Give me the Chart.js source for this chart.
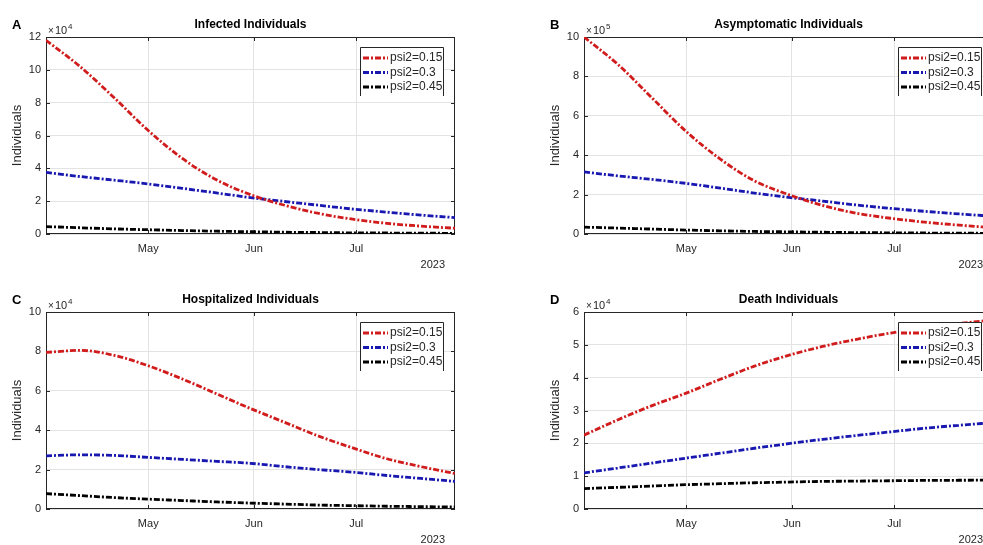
<!DOCTYPE html>
<html>
<head>
<meta charset="utf-8">
<script src="https://cdn.jsdelivr.net/npm/chart.js@4.4.1/dist/chart.umd.min.js"></script>
<style>
    html, body { margin: 0; padding: 0; background: #fff; }
    body { width: 983px; height: 545px; overflow: hidden; position: relative; }
    .panel { position: absolute; width: 500px; height: 275px; }
</style>
</head>
<body>
<div class="panel" style="left:0;top:0"><canvas id="chartA" width="500" height="275"></canvas></div>
<div class="panel" style="left:538px;top:0"><canvas id="chartB" width="500" height="275"></canvas></div>
<div class="panel" style="left:0;top:275px"><canvas id="chartC" width="500" height="275"></canvas></div>
<div class="panel" style="left:538px;top:275px"><canvas id="chartD" width="500" height="275"></canvas></div>
<script>
// days since 1 Apr 2023
const days = [0, 10, 20, 30, 40, 50, 60, 70, 80, 90, 100, 110, 120];
const monthTickDays = [30, 61, 91];
const monthTickLabels = ['May', 'Jun', 'Jul'];
const seriesLabels = ['psi2=0.15', 'psi2=0.3', 'psi2=0.45'];

// values in units of the axis multiplier (x10^4 or x10^5)
const infected015 = [11.8, 10.2, 8.3, 6.3, 4.6, 3.3, 2.4, 1.75, 1.25, 0.9, 0.65, 0.48, 0.35];
const infected03 = [3.75, 3.5, 3.28, 3.05, 2.78, 2.5, 2.22, 1.98, 1.75, 1.52, 1.33, 1.15, 1.0];
const infected045 = [0.45, 0.38, 0.31, 0.26, 0.21, 0.17, 0.14, 0.11, 0.09, 0.07, 0.06, 0.05, 0.04];

const asympt015 = [10.0, 8.6, 6.9, 5.2, 3.8, 2.7, 2.0, 1.45, 1.05, 0.8, 0.6, 0.45, 0.32];
const asympt03 = [3.15, 2.95, 2.77, 2.57, 2.33, 2.08, 1.86, 1.67, 1.47, 1.3, 1.15, 1.02, 0.9];
const asympt045 = [0.35, 0.3, 0.25, 0.2, 0.16, 0.13, 0.11, 0.09, 0.07, 0.06, 0.05, 0.04, 0.035];

const hosp015 = [7.95, 8.05, 7.8, 7.27, 6.6, 5.85, 5.1, 4.4, 3.7, 3.1, 2.55, 2.15, 1.8];
const hosp03 = [2.7, 2.75, 2.72, 2.62, 2.52, 2.42, 2.32, 2.15, 2.0, 1.87, 1.7, 1.55, 1.4];
const hosp045 = [0.78, 0.68, 0.58, 0.5, 0.43, 0.36, 0.3, 0.25, 0.2, 0.17, 0.14, 0.12, 0.1];

const death015 = [2.25, 2.72, 3.15, 3.53, 3.95, 4.35, 4.68, 4.95, 5.17, 5.36, 5.52, 5.65, 5.76];
const death03 = [1.1, 1.25, 1.4, 1.55, 1.7, 1.85, 1.99, 2.12, 2.24, 2.35, 2.46, 2.55, 2.63];
const death045 = [0.62, 0.66, 0.7, 0.74, 0.77, 0.8, 0.82, 0.84, 0.85, 0.86, 0.87, 0.875, 0.88];

const lineColors = ['#d01c1c', '#1818b0', '#000000'];
const axisColor = '#262626';
const gridColor = '#e3e3e3';
const fontFamily = '"Liberation Sans", Arial, Helvetica, sans-serif';

const decorPlugin = {
    id: 'decor',
    beforeDatasetsDraw(chart) {
        const ctx = chart.ctx;
        const a = chart.chartArea;
        // border + inward ticks, matlab style
        ctx.save();
        ctx.strokeStyle = axisColor;
        ctx.lineWidth = 1;
        ctx.strokeRect(a.left + 0.5, a.top + 0.5, a.right - a.left - 1, a.bottom - a.top - 1);
        const ys = chart.scales.y;
        ys.ticks.forEach(t => {
            const py = Math.round(ys.getPixelForValue(t.value)) + 0.5;
            ctx.beginPath();
            ctx.moveTo(a.left, py); ctx.lineTo(a.left + 4, py);
            ctx.moveTo(a.right, py); ctx.lineTo(a.right - 4, py);
            ctx.stroke();
        });
        const xs = chart.scales.x;
        monthTickDays.forEach(d => {
            const px = Math.round(xs.getPixelForValue(d)) + 0.5;
            ctx.beginPath();
            ctx.moveTo(px, a.bottom); ctx.lineTo(px, a.bottom - 4);
            ctx.moveTo(px, a.top); ctx.lineTo(px, a.top + 4);
            ctx.stroke();
        });
        ctx.restore();
    },
    afterDraw(chart) {
        const ctx = chart.ctx;
        const a = chart.chartArea;
        const cfg = chart.options.plugins.decor;
        ctx.save();
        ctx.fillStyle = '#000';
        ctx.textBaseline = 'middle';
        ctx.font = 'bold 13px ' + fontFamily;
        ctx.textAlign = 'left';
        ctx.fillText(cfg.letter, 12, 25);
        ctx.font = 'bold 12px ' + fontFamily;
        ctx.textAlign = 'center';
        ctx.fillText(cfg.title, (a.left + a.right) / 2, 25);

        // multiplier
        ctx.fillStyle = axisColor;
        ctx.textAlign = 'left';
        ctx.textBaseline = 'alphabetic';
        ctx.font = '10px ' + fontFamily;
        ctx.fillText('\u00d7', a.left + 2, a.top - 3);
        ctx.font = '11px ' + fontFamily;
        ctx.fillText('10', a.left + 9, a.top - 3);
        ctx.font = '8px ' + fontFamily;
        ctx.fillText(cfg.exponent, a.left + 22, a.top - 8);

        // year
        ctx.font = '11px ' + fontFamily;
        ctx.textAlign = 'right';
        ctx.textBaseline = 'middle';
        ctx.fillText('2023', a.right - 10, a.bottom + 31);

        // y label
        ctx.save();
        ctx.translate(17, (a.top + a.bottom) / 2);
        ctx.rotate(-Math.PI / 2);
        ctx.textAlign = 'center';
        ctx.font = '13px ' + fontFamily;
        ctx.fillText('Individuals', 0, 0);
        ctx.restore();

        // legend box (white, bottom edge missing like the original)
        const bx = 360, by = 47, bw = 83, bh = 49;
        ctx.fillStyle = '#fff';
        ctx.fillRect(bx, by, bw, bh);
        ctx.strokeStyle = axisColor;
        ctx.lineWidth = 1;
        ctx.beginPath();
        ctx.moveTo(bx + 0.5, by + bh); ctx.lineTo(bx + 0.5, by + 0.5);
        ctx.lineTo(bx + bw + 0.5, by + 0.5); ctx.lineTo(bx + bw + 0.5, by + bh);
        ctx.stroke();
        chart.data.datasets.forEach((ds, i) => {
            const ry = by + 11 + i * 14.5;
            ctx.strokeStyle = ds.borderColor;
            ctx.lineWidth = 2.8;
            ctx.setLineDash([6, 2, 2, 2]);
            ctx.beginPath();
            ctx.moveTo(bx + 3, ry); ctx.lineTo(bx + 28, ry);
            ctx.stroke();
            ctx.setLineDash([]);
            ctx.fillStyle = axisColor;
            ctx.font = '12px ' + fontFamily;
            ctx.textAlign = 'left';
            ctx.textBaseline = 'middle';
            ctx.fillText(ds.label, bx + 30, ry);
        });
        ctx.restore();
    }
};

function makePanel(id, letter, title, exponent, yMax, yStep, s1, s2, s3) {
    const series = [s1, s2, s3];
    new Chart(document.getElementById(id), {
        type: 'line',
        data: {
            datasets: series.map((vals, i) => ({
                label: seriesLabels[i],
                data: days.map((d, k) => ({ x: d, y: vals[k] })),
                borderColor: lineColors[i],
                borderWidth: 2.8,
                borderDash: [6, 2, 2, 2],
                pointRadius: 0,
                cubicInterpolationMode: 'monotone',
                fill: false
            }))
        },
        options: {
            responsive: false,
            animation: false,
            layout: { padding: { top: 37, right: 45, left: 0, bottom: 0 } },
            plugins: {
                legend: { display: false },
                tooltip: { enabled: false },
                decor: { letter: letter, title: title, exponent: exponent }
            },
            scales: {
                x: {
                    type: 'linear',
                    min: 0,
                    max: 120,
                    afterBuildTicks: scale => {
                        scale.ticks = monthTickDays.map(v => ({ value: v }));
                    },
                    afterFit: scale => { scale.height = 41; },
                    ticks: {
                        autoSkip: false,
                        maxRotation: 0,
                        padding: 8,
                        color: axisColor,
                        font: { family: fontFamily, size: 11 },
                        callback: value => monthTickLabels[monthTickDays.indexOf(value)]
                    },
                    grid: { color: gridColor, drawTicks: false },
                    border: { display: false }
                },
                y: {
                    min: 0,
                    max: yMax,
                    afterFit: scale => { scale.width = 46; },
                    ticks: {
                        stepSize: yStep,
                        padding: 5,
                        color: axisColor,
                        font: { family: fontFamily, size: 11 }
                    },
                    grid: { color: gridColor, drawTicks: false },
                    border: { display: false }
                }
            }
        },
        plugins: [decorPlugin]
    });
}

makePanel('chartA', 'A', 'Infected Individuals', '4', 12, 2, infected015, infected03, infected045);
makePanel('chartB', 'B', 'Asymptomatic Individuals', '5', 10, 2, asympt015, asympt03, asympt045);
makePanel('chartC', 'C', 'Hospitalized Individuals', '4', 10, 2, hosp015, hosp03, hosp045);
makePanel('chartD', 'D', 'Death Individuals', '4', 6, 1, death015, death03, death045);
</script>
</body>
</html>
